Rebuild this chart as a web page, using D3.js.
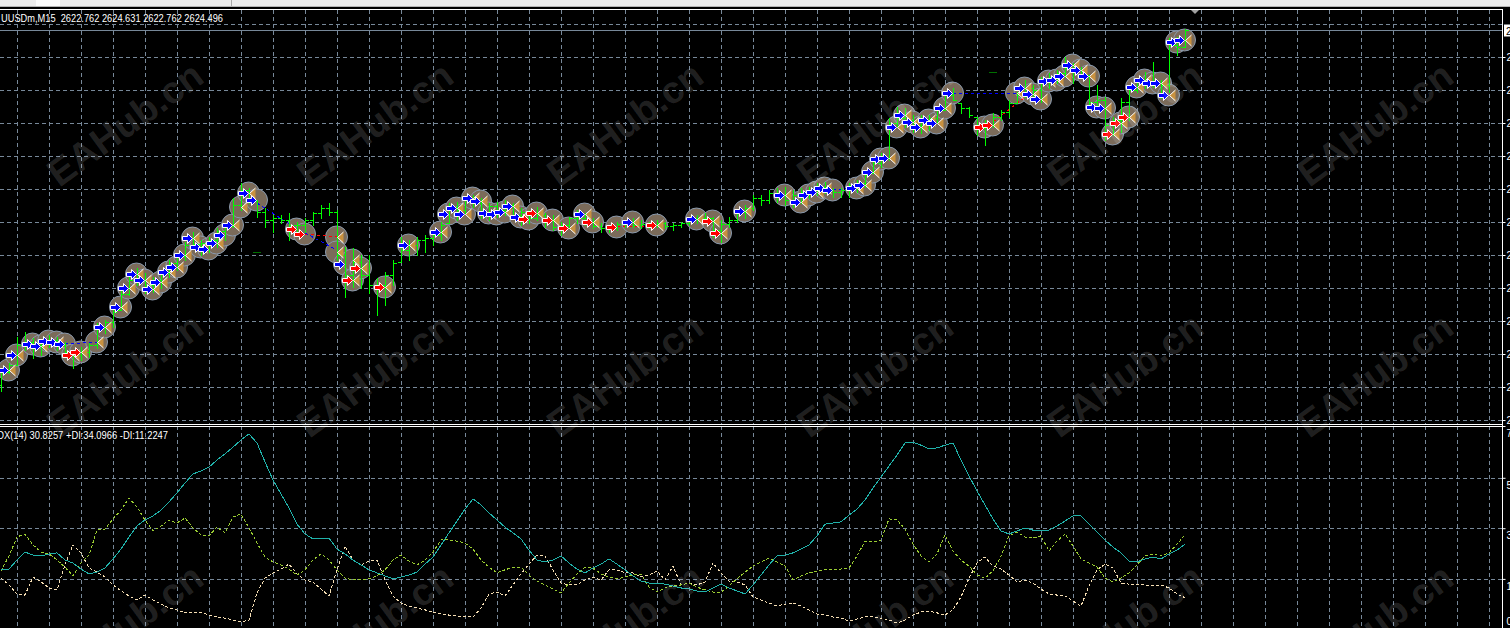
<!DOCTYPE html>
<html><head><meta charset="utf-8">
<script src="https://cdn.jsdelivr.net/npm/d3@7"></script>
<style>html,body{margin:0;padding:0;background:#000;overflow:hidden}svg{display:block}</style>
</head><body><svg id="c" width="1510" height="628"></svg>
<script>
// ---------------- DATA ----------------
const symbolTitle = "UUSDm,M15  2622.762 2624.631 2622.762 2624.496";
const adxTitle = "ADX(14) 30.8257 +DI:34.0966 -DI:11.2247";
const bidPrice = 2624.496;

const openP = [2589.0,2590.3,2591.0,2593.0,2593.3,2593.0,2593.2,2593.5,2593.0,2592.3,
2592.0,2592.3,2593.0,2594.7,2595.3,2596.5,2598.1,2599.5,2599.5,2599.0,
2599.5,2600.2,2601.2,2601.9,2603.0,2603.1,2603.2,2603.5,2604.4,2604.9,
2607.0,2608.5,2607.4,2606.3,2605.5,2605.7,2605.5,2605.0,2605.0,2605.5,
2606.2,2606.7,2606.3,2602.0,2600.0,2601.3,2600.0,2599.0,2599.0,2600.0,
2601.3,2602.5,2603.0,2603.5,2603.7,2604.0,2605.2,2606.8,2606.5,2607.5,
2607.2,2606.0,2606.9,2606.5,2607.0,2606.0,2606.3,2605.7,2606.0,2605.5,
2604.8,2605.0,2605.7,2605.7,2605.3,2604.9,2604.7,2604.7,2605.1,2605.3,
2605.0,2605.1,2605.0,2605.2,2604.9,2605.0,2605.2,2605.7,2605.7,2605.7,
2604.5,2605.1,2605.5,2606.3,2606.7,2607.7,2607.5,2608.2,2608.0,2607.5,
2608.0,2608.3,2608.5,2608.8,2608.5,2608.3,2608.5,2609.0,2609.2,2610.2,
2611.2,2611.7,2615.2,2615.7,2615.5,2615.0,2615.5,2615.7,2616.5,2618.0,
2617.2,2616.7,2615.8,2614.7,2615.0,2615.8,2616.3,2617.2,2618.0,2618.7,
2618.5,2619.5,2619.8,2620.2,2620.7,2620.5,2620.0,2617.3,2617.5,2615.0,
2615.5,2617.3,2618.5,2619.3,2619.0,2619.2,2619.0,2623.0,2622.762];

const highP = [2590.7,2591.2,2593.8,2594.3,2593.7,2593.5,2594.0,2593.8,2593.3,2592.5,
2592.8,2593.2,2595.2,2595.5,2596.5,2598.5,2599.8,2600.7,2600.2,2599.8,
2600.5,2601.5,2602.2,2603.3,2604.3,2603.5,2603.8,2604.7,2605.2,2607.7,
2609.2,2608.7,2607.5,2606.7,2606.0,2606.0,2606.2,2605.3,2605.7,2606.3,
2607.0,2607.2,2606.5,2602.8,2602.7,2602.0,2602.0,2599.7,2600.3,2601.5,
2603.8,2603.5,2603.8,2604.0,2604.3,2605.3,2607.2,2607.3,2607.7,2608.0,
2607.7,2607.2,2607.3,2607.5,2607.2,2606.7,2606.5,2606.8,2606.2,2606.0,
2605.3,2605.8,2606.5,2606.2,2605.7,2605.2,2605.0,2605.3,2605.5,2605.7,
2605.5,2605.3,2605.5,2605.3,2605.2,2605.3,2605.8,2606.0,2606.2,2605.8,
2605.5,2605.8,2606.5,2607.0,2608.0,2608.0,2608.5,2608.7,2608.8,2608.5,
2608.7,2608.8,2609.2,2609.3,2608.7,2608.7,2609.2,2609.5,2610.3,2611.5,
2612.2,2615.7,2616.8,2616.7,2616.0,2616.0,2616.0,2616.7,2618.3,2618.7,
2617.2,2616.8,2615.8,2615.5,2616.2,2616.5,2617.5,2618.3,2619.5,2619.0,
2619.8,2620.2,2620.5,2621.8,2621.2,2620.8,2620.0,2619.0,2617.8,2615.8,
2617.7,2618.8,2619.7,2620.3,2621.3,2619.5,2623.7,2623.8,2624.631];

const lowP = [2588.4,2590.2,2591.0,2592.5,2591.7,2592.0,2592.8,2592.5,2592.0,2590.7,
2591.5,2591.8,2592.7,2594.2,2594.8,2596.5,2598.0,2599.0,2598.2,2598.3,
2598.7,2599.8,2600.5,2601.5,2602.7,2602.0,2602.3,2602.8,2603.5,2604.8,
2606.5,2607.2,2605.8,2604.8,2604.3,2605.2,2603.5,2604.0,2604.3,2605.0,
2605.7,2606.0,2601.5,2597.8,2598.8,2598.7,2598.2,2596.0,2597.0,2599.0,
2601.3,2601.5,2602.0,2602.3,2603.0,2603.5,2605.2,2605.5,2606.2,2606.8,
2605.7,2605.5,2605.8,2606.0,2605.7,2605.0,2605.2,2605.5,2604.8,2604.5,
2604.0,2604.7,2605.2,2605.0,2604.7,2604.3,2604.3,2604.5,2604.8,2604.8,
2604.7,2604.7,2604.8,2604.7,2604.5,2604.8,2605.0,2605.2,2605.2,2603.8,
2603.3,2604.8,2605.3,2605.7,2606.5,2607.0,2607.2,2607.3,2607.0,2606.8,
2607.2,2607.7,2608.0,2608.2,2607.8,2607.8,2607.8,2608.3,2608.8,2610.2,
2610.8,2611.5,2614.8,2614.8,2614.3,2614.2,2614.5,2615.2,2616.5,2617.5,
2616.2,2615.8,2614.0,2613.0,2614.8,2615.5,2615.8,2617.2,2617.8,2617.7,
2617.3,2618.7,2619.2,2619.8,2619.2,2619.7,2616.8,2616.5,2613.5,2614.0,
2614.3,2615.5,2618.3,2618.7,2618.8,2617.7,2618.3,2622.0,2622.762];

const closeP = [2590.3,2591.0,2593.0,2593.3,2593.0,2593.2,2593.5,2593.0,2592.3,2592.0,
2592.3,2593.0,2594.7,2595.3,2596.3,2598.1,2599.5,2599.5,2599.0,2599.5,
2600.2,2601.2,2601.9,2603.0,2603.1,2603.2,2603.5,2604.4,2604.9,2607.0,
2608.5,2607.4,2606.3,2605.5,2605.7,2605.5,2605.0,2605.0,2605.5,2606.2,
2606.7,2606.3,2602.0,2600.0,2601.3,2600.0,2599.0,2599.0,2600.0,2601.2,
2602.5,2603.0,2603.5,2603.7,2604.0,2605.0,2606.8,2606.5,2607.5,2607.2,
2606.0,2606.9,2606.5,2607.0,2606.0,2606.3,2605.7,2606.0,2605.5,2604.8,
2605.0,2605.7,2605.7,2605.3,2604.9,2604.7,2604.7,2605.1,2605.3,2605.0,
2605.1,2605.0,2605.2,2604.9,2605.0,2605.2,2605.7,2605.7,2605.7,2604.5,
2605.1,2605.5,2606.3,2606.7,2607.7,2607.5,2608.2,2608.0,2607.5,2608.0,
2608.3,2608.5,2608.8,2608.5,2608.3,2608.5,2609.0,2609.2,2610.0,2611.2,
2611.7,2615.2,2615.7,2615.5,2615.0,2615.5,2615.7,2616.5,2618.0,2617.5,
2616.7,2616.0,2614.7,2615.0,2615.8,2616.3,2617.2,2618.0,2618.7,2618.5,
2619.5,2619.8,2620.2,2620.7,2620.5,2620.0,2617.3,2617.5,2615.0,2615.5,
2617.3,2618.5,2619.3,2619.0,2619.2,2619.0,2623.0,2622.8,2624.496];

const adxVals = [21.4,21.7,25.0,27.9,26.8,26.5,27.2,27.6,25.0,23.9,
21.7,19.9,20.6,22.1,25.4,29.0,33.4,37.4,39.6,41.1,
43.2,46.2,49.5,53.1,56.4,57.5,58.9,61.5,63.7,66.2,
68.8,71.0,67.7,60.8,54.2,49.1,44.0,38.1,34.5,32.7,
33.0,33.0,29.0,27.2,25.0,23.2,21.4,20.3,19.2,18.1,
18.8,19.5,20.6,23.5,26.1,30.5,34.9,39.2,43.6,47.3,
45.1,42.2,39.6,37.0,34.9,32.7,28.6,25.0,24.3,25.0,
26.5,23.9,21.7,20.3,22.1,23.5,25.4,23.5,21.4,19.2,
17.3,16.6,16.6,16.2,15.5,14.8,14.4,13.7,13.3,14.8,
16.2,14.8,13.7,12.6,15.9,19.5,23.2,26.5,26.8,27.6,
29.0,30.5,33.8,38.1,38.5,38.9,41.4,43.6,46.9,51.3,
55.3,59.3,63.3,67.7,68.0,66.9,65.5,65.9,66.9,67.7,
61.5,55.7,50.2,45.1,40.0,35.6,34.5,35.6,36.7,35.9,
35.6,35.9,37.4,39.2,41.1,41.1,38.1,35.2,32.3,29.7,
27.6,24.6,24.3,25.4,26.1,25.4,27.2,28.6,30.8257];

const plusDI = [21.0,26.5,33.4,34.5,30.5,27.9,27.2,25.0,22.4,19.2,
23.9,26.8,35.9,36.3,40.0,43.2,47.6,44.3,39.6,35.6,
37.4,39.6,38.5,40.3,36.7,34.1,33.8,37.0,34.9,40.7,
41.8,36.7,31.2,26.1,24.3,23.2,21.7,19.5,21.4,25.0,
27.2,25.0,21.4,18.4,17.7,17.7,18.1,19.2,21.4,25.0,
26.8,24.6,23.2,25.0,27.9,32.3,32.3,31.9,31.2,29.0,
25.0,22.4,20.3,21.4,22.4,22.4,19.5,17.3,15.9,14.4,
13.0,16.6,19.9,22.4,22.1,19.9,18.8,18.1,18.8,19.5,
19.9,15.1,13.3,14.8,15.5,15.9,16.6,15.1,14.1,13.3,
13.3,15.5,18.1,20.6,22.8,24.3,25.7,24.3,22.8,17.7,
19.2,20.3,21.0,21.4,21.7,21.7,22.1,26.5,31.9,31.6,
32.3,40.0,39.6,36.3,30.8,26.5,24.3,27.2,34.1,28.3,
25.0,22.8,19.5,18.4,21.0,26.5,33.8,35.2,33.4,33.0,
33.8,28.3,31.9,34.5,30.1,25.4,23.9,22.4,18.4,17.0,
18.4,20.3,23.2,26.5,27.2,26.5,27.6,30.8,34.0966];

const minusDI = [18.4,15.9,12.6,12.2,18.8,17.0,14.8,14.1,23.2,30.5,
27.6,22.1,20.6,18.8,15.9,13.7,11.9,10.4,12.2,10.4,
8.9,7.5,6.8,5.7,6.0,6.0,4.9,4.2,3.8,3.1,
2.4,3.1,13.0,18.4,20.3,21.7,23.5,19.9,17.7,17.0,
14.4,11.9,21.4,30.1,25.0,23.2,24.6,25.0,17.7,11.9,
9.3,8.2,7.5,6.8,6.0,5.3,4.9,4.6,4.2,4.2,
7.5,12.6,13.3,11.9,15.9,19.9,23.5,26.8,26.5,21.4,
16.6,15.9,15.9,17.7,18.8,17.7,21.4,21.4,20.3,20.3,
18.8,19.5,21.0,17.7,22.8,15.9,16.6,15.9,17.0,23.9,
20.3,17.3,17.0,15.9,11.5,10.4,9.3,8.2,8.9,9.3,
8.2,6.8,5.3,4.9,4.2,3.8,2.7,3.5,4.2,4.2,
3.8,3.1,2.0,3.1,4.9,6.0,6.4,5.7,4.9,6.8,
11.5,18.4,23.9,26.1,22.8,21.7,19.5,17.0,17.7,16.6,
14.4,12.6,12.2,11.9,10.0,8.2,15.5,21.4,23.5,22.1,
16.6,16.2,16.2,15.9,15.5,15.9,14.8,12.6,11.2247];

// trade history markers: B=buy+close, b=buy, S=sell+close, s=sell, c=close only
const tradeBar = [1,2,4,5,6,7,8,9,10,12,
13,15,16,17,18,19,20,21,22,23,
24,25,26,27,28,29,30,31,32,37,
38,42,42,43,44,44,45,48,51,55,
56,57,58,59,60,61,62,63,64,65,
66,67,69,71,73,74,77,79,82,87,
89,90,93,98,100,101,102,103,104,107,
108,109,110,111,112,113,114,115,116,117,
118,119,123,124,127,128,129,130,131,132,
133,134,135,136,137,138,139,140,141,142,
143,144,145,146,147,148];
const tradePrice = [2590.5,2592.0,2593.1,2592.9,2593.4,2593.3,2593.1,2592.0,2592.3,2593.3,
2594.8,2596.8,2598.7,2600.1,2599.5,2598.6,2599.3,2600.3,2600.8,2602.0,
2603.7,2602.8,2602.6,2603.2,2604.0,2605.0,2606.8,2608.2,2607.5,2604.6,
2604.1,2603.8,2602.3,2601.1,2601.5,2599.5,2600.7,2598.8,2603.0,2604.3,
2606.1,2606.7,2606.1,2607.7,2607.4,2606.2,2606.1,2606.3,2606.9,2605.8,
2605.6,2606.2,2605.5,2604.7,2606.1,2605.3,2604.8,2605.3,2605.0,2605.6,
2605.4,2604.2,2606.4,2608.0,2607.3,2608.0,2608.3,2608.7,2608.5,2608.7,
2609.0,2610.3,2611.6,2611.7,2614.8,2616.0,2615.3,2614.8,2615.5,2615.2,
2616.7,2618.2,2614.8,2615.0,2618.2,2618.7,2618.1,2617.6,2619.4,2619.5,
2619.9,2621.0,2620.5,2619.9,2616.8,2616.7,2614.1,2615.2,2615.8,2618.8,
2619.5,2619.2,2619.2,2618.0,2623.3,2623.5];
const tradeKind = ["B","B","b","B","b","B","b","S","S","c",
"B","B","B","B","B","B","B","B","B","B",
"B","B","b","B","b","B","c","B","b","s",
"s","c","c","b","c","S","S","S","B","B",
"b","B","B","B","B","B","b","B","B","B",
"s","S","S","S","B","S","s","B","S","B",
"S","S","B","B","B","b","B","B","b","B",
"B","B","b","B","B","B","B","B","B","B",
"B","b","s","S","c","B","B","B","B","B",
"B","B","B","B","b","B","S","S","S","B",
"B","b","B","B","b","B"];

// trade connection lines
const lineBarFrom = [8,32,38,38,77,104,119,124];
const linePriceFrom = [2593.1,2607.2,2604.1,2604.2,2604.8,2608.5,2618.2,2615.3];
const lineBarTo = [12,37,42,42,82,107,127,128];
const linePriceTo = [2593.3,2604.6,2603.8,2602.5,2604.9,2608.7,2618.2,2617.8];
const lineSide = ["buy","buy","sell","buy","sell","buy","buy","sell"];

// small stop marks
const stopBar = [32,124];
const stopPrice = [2602.3,2620.3];

// axis tick values
const priceTicks = [2625.1,2621.8,2618.5,2615.2,2611.9,2608.6,2605.3,2602.0,2598.7,2595.4,2592.1,2588.8,2585.5];
const priceLabelTicks = [2621.8,2618.5,2615.2,2611.9,2608.6,2605.3,2602.0,2598.7,2595.4,2592.1,2588.8,2585.5];
const adxGridTicks = [55.0,36.6,18.1];
const adxLabelTicks = [73.9,55.0,36.6,18.1,0];

// ---------------- DRAW ----------------
const svg = d3.select('#c');
const PR = 1502;
const mainTop = 10, mainBot = 424, indTop = 426, indBot = 628;
const x = d3.scaleLinear().domain([0, 148]).range([1, 1185]);
const yP = d3.scaleLinear().domain([2626.5, 2585.5]).range([10, 420]);
const yA = d3.scaleLinear().domain([0, 73.9]).range([628.5, 426]);
const GRID = '#778899';
const FONT = 'Liberation Sans, Arial, sans-serif';
const px = v => Math.round(v) + 0.5;

svg.append('rect').attr('width',1510).attr('height',628).attr('fill','#000');
// toolbar strip
svg.append('rect').attr('width',1510).attr('height',7).attr('fill','#ececec');
svg.append('rect').attr('x',36).attr('width',24).attr('height',6).attr('fill','#fbfbfb');
svg.append('line').attr('x1',231.5).attr('x2',231.5).attr('y1',0).attr('y2',6).attr('stroke','#a9a9a9');
svg.append('line').attr('x1',0).attr('x2',1510).attr('y1',6.5).attr('y2',6.5).attr('stroke','#b4b4b4');

const defs = svg.append('defs');
defs.append('clipPath').attr('id','cm').append('rect').attr('x',0).attr('y',mainTop).attr('width',PR).attr('height',mainBot-mainTop);
defs.append('clipPath').attr('id','ci').append('rect').attr('x',0).attr('y',indTop+1).attr('width',PR).attr('height',indBot-indTop);

// grid
const gridBars = d3.range(2, 190, 4);
const gm = svg.append('g').attr('clip-path','url(#cm)').attr('stroke',GRID).attr('stroke-dasharray','4,3').attr('fill','none');
gm.selectAll('line.v').data(gridBars).join('line').attr('class','v')
  .attr('x1',d=>px(x(d))).attr('x2',d=>px(x(d))).attr('y1',mainTop).attr('y2',mainBot);
gm.selectAll('line.h').data(priceTicks).join('line').attr('class','h')
  .attr('x1',0).attr('x2',PR).attr('y1',d=>px(yP(d))).attr('y2',d=>px(yP(d)));
const gi = svg.append('g').attr('clip-path','url(#ci)').attr('stroke',GRID).attr('stroke-dasharray','4,3').attr('fill','none');
gi.selectAll('line.v').data(gridBars).join('line').attr('class','v')
  .attr('x1',d=>px(x(d))).attr('x2',d=>px(x(d))).attr('y1',indTop).attr('y2',indBot);
gi.selectAll('line.h').data(adxGridTicks).join('line').attr('class','h')
  .attr('x1',0).attr('x2',PR).attr('y1',d=>px(yA(d))).attr('y2',d=>px(yA(d)));

// main pane content
const main = svg.append('g').attr('clip-path','url(#cm)');
main.append('line').attr('x1',0).attr('x2',PR).attr('y1',px(yP(bidPrice))).attr('y2',px(yP(bidPrice))).attr('stroke',GRID);

const trades = tradeBar.map((b,i)=>({b, p:tradePrice[i], k:tradeKind[i]}));
// circles
main.append('g').selectAll('circle').data(trades).join('circle')
  .attr('cx',d=>x(d.b)-0.5).attr('cy',d=>yP(d.p)).attr('r',11)
  .attr('fill','#7b6b5a').attr('stroke','#8a9aae').attr('stroke-width',1);

// trade lines
main.append('g').attr('shape-rendering','crispEdges').selectAll('line').data(lineBarFrom).join('line')
  .attr('x1',(d,i)=>x(d)).attr('y1',(d,i)=>yP(linePriceFrom[i]))
  .attr('x2',(d,i)=>x(lineBarTo[i])).attr('y2',(d,i)=>yP(linePriceTo[i]))
  .attr('stroke',(d,i)=>lineSide[i]==='buy'?'#0000ff':'#ff0000')
  .attr('stroke-width',1).attr('stroke-dasharray','3,3');

// stop marks
main.append('g').selectAll('line').data(stopBar).join('line')
  .attr('x1',d=>x(d)-4).attr('x2',d=>x(d)+4)
  .attr('y1',(d,i)=>px(yP(stopPrice[i]))).attr('y2',(d,i)=>px(yP(stopPrice[i])))
  .attr('stroke','#007000').attr('stroke-width',1);

// OHLC bars
const bars = openP.map((o,i)=>({i,o,h:highP[i],l:lowP[i],c:closeP[i]}));
main.append('g').attr('shape-rendering','crispEdges').selectAll('path').data(bars).join('path')
  .attr('d',d=>{const cx=px(x(d.i));
    return `M${cx},${Math.round(yP(d.h))}V${Math.round(yP(d.l))+1}`+
      `M${cx-3.5},${px(yP(d.o))}H${cx}M${cx},${px(yP(d.c))}H${cx+3.5}`;})
  .attr('stroke','#00ff00').attr('stroke-width',1).attr('fill','none');

// arrows
const ag = main.append('g');
trades.forEach(t=>{
  const bx = x(t.b), cy = Math.round(yP(t.p))+0.5;
  const hasArrow = t.k!=='c';
  const hasClose = t.k==='B'||t.k==='S'||t.k==='c';
  if(hasArrow){
    const tx = bx - 0.5;
    const col = (t.k==='B'||t.k==='b') ? '#0000ff' : '#ff0000';
    ag.append('path')
      .attr('d',`M${tx-10},${cy-2}H${tx-5}V${cy-5}L${tx},${cy}L${tx-5},${cy+5}V${cy+2}H${tx-10}Z`)
      .attr('fill',col).attr('stroke','#ffffff').attr('stroke-width',1).attr('stroke-linejoin','miter');
  }
  if(hasClose){
    const tx = bx + 0.5;
    ag.append('path').attr('d',`M${tx},${cy}L${tx+6},${cy-5.5}V${cy+5.5}Z`).attr('fill','#c9913f');
    ag.append('path').attr('d',`M${tx+6},${cy-5.5}L${tx},${cy}L${tx+6},${cy+5.5}`)
      .attr('fill','none').attr('stroke','#ffffff').attr('stroke-width',1);
  }
});

// indicator lines
const ind = svg.append('g').attr('clip-path','url(#ci)').attr('fill','none').attr('shape-rendering','crispEdges');
const ln = d3.line().x((d,i)=>x(i)).y(d=>yA(d));
ind.append('path').attr('d',ln(minusDI)).attr('stroke','#f5deb3').attr('stroke-dasharray','3,2');
ind.append('path').attr('d',ln(plusDI)).attr('stroke','#9acd32').attr('stroke-dasharray','3,2');
ind.append('path').attr('d',ln(adxVals)).attr('stroke','#20b2aa').attr('stroke-width',1);

// borders
const bd = svg.append('g').attr('stroke','#ffffff').attr('stroke-width',1);
bd.append('line').attr('x1',0).attr('x2',PR+1).attr('y1',9.5).attr('y2',9.5);
bd.append('line').attr('x1',PR+0.5).attr('x2',PR+0.5).attr('y1',9.5).attr('y2',628);
bd.append('line').attr('x1',0).attr('x2',PR+1).attr('y1',424.5).attr('y2',424.5);
bd.append('line').attr('x1',0).attr('x2',PR+1).attr('y1',426.5).attr('y2',426.5);

// chart shift marker
svg.append('path').attr('d','M1191,10L1199,10L1195,14Z').attr('fill','#a0a0a0');

// price axis (right)
const pa = svg.append('g').attr('transform',`translate(${PR+0.5},0)`)
  .call(d3.axisRight(yP).tickValues(priceLabelTicks).tickSize(3).tickPadding(1).tickFormat(d3.format('.3f')));
pa.select('.domain').remove();
pa.selectAll('line').attr('stroke','#ffffff');
pa.selectAll('text').attr('fill','#ffffff').attr('font-family',FONT).attr('font-size',10);
// bid price label
svg.append('rect').attr('x',PR+2).attr('y',px(yP(bidPrice))-6).attr('width',20).attr('height',12).attr('fill','#ffffff');
svg.append('text').attr('x',PR+4).attr('y',px(yP(bidPrice))+4).text(d3.format('.3f')(bidPrice))
  .attr('fill','#000').attr('font-family',FONT).attr('font-size',10);

// indicator axis
const ia = svg.append('g').attr('transform',`translate(${PR+0.5},0)`)
  .call(d3.axisRight(yA).tickValues(adxLabelTicks).tickSize(3).tickPadding(1).tickFormat(d3.format('.4f')));
ia.select('.domain').remove();
ia.selectAll('line').attr('stroke','#ffffff');
ia.selectAll('text').attr('fill','#ffffff').attr('font-family',FONT).attr('font-size',10)
  .attr('dy',d=>d===0?'-0.4em':'1.05em');

// watermark
const wm = svg.append('g').attr('pointer-events','none');
for(let j=0;j<3;j++) for(let k=0;k<6;k++){
  const cx = 125 + 250*k, cy = 124 + 251*j;
  wm.append('text').attr('transform',`translate(${cx},${cy}) rotate(-36)`)
    .attr('text-anchor','middle').attr('dominant-baseline','central')
    .attr('font-family',FONT).attr('font-weight','bold').attr('font-size',38)
    .attr('fill','#ffffff').attr('fill-opacity',0.14).text('EAHub.cn');
}

// headers
svg.append('text').attr('x',1).attr('y',22).attr('xml:space','preserve').style('white-space','pre')
  .attr('fill','#ffffff').attr('font-family',FONT).attr('font-size',10.5)
  .attr('textLength',222).attr('lengthAdjust','spacingAndGlyphs').text(symbolTitle);
svg.append('text').attr('x',-9).attr('y',439).attr('fill','#ffffff')
  .attr('font-family',FONT).attr('font-size',10.5)
  .attr('textLength',177).attr('lengthAdjust','spacingAndGlyphs').text(adxTitle);
</script>
</body></html>
